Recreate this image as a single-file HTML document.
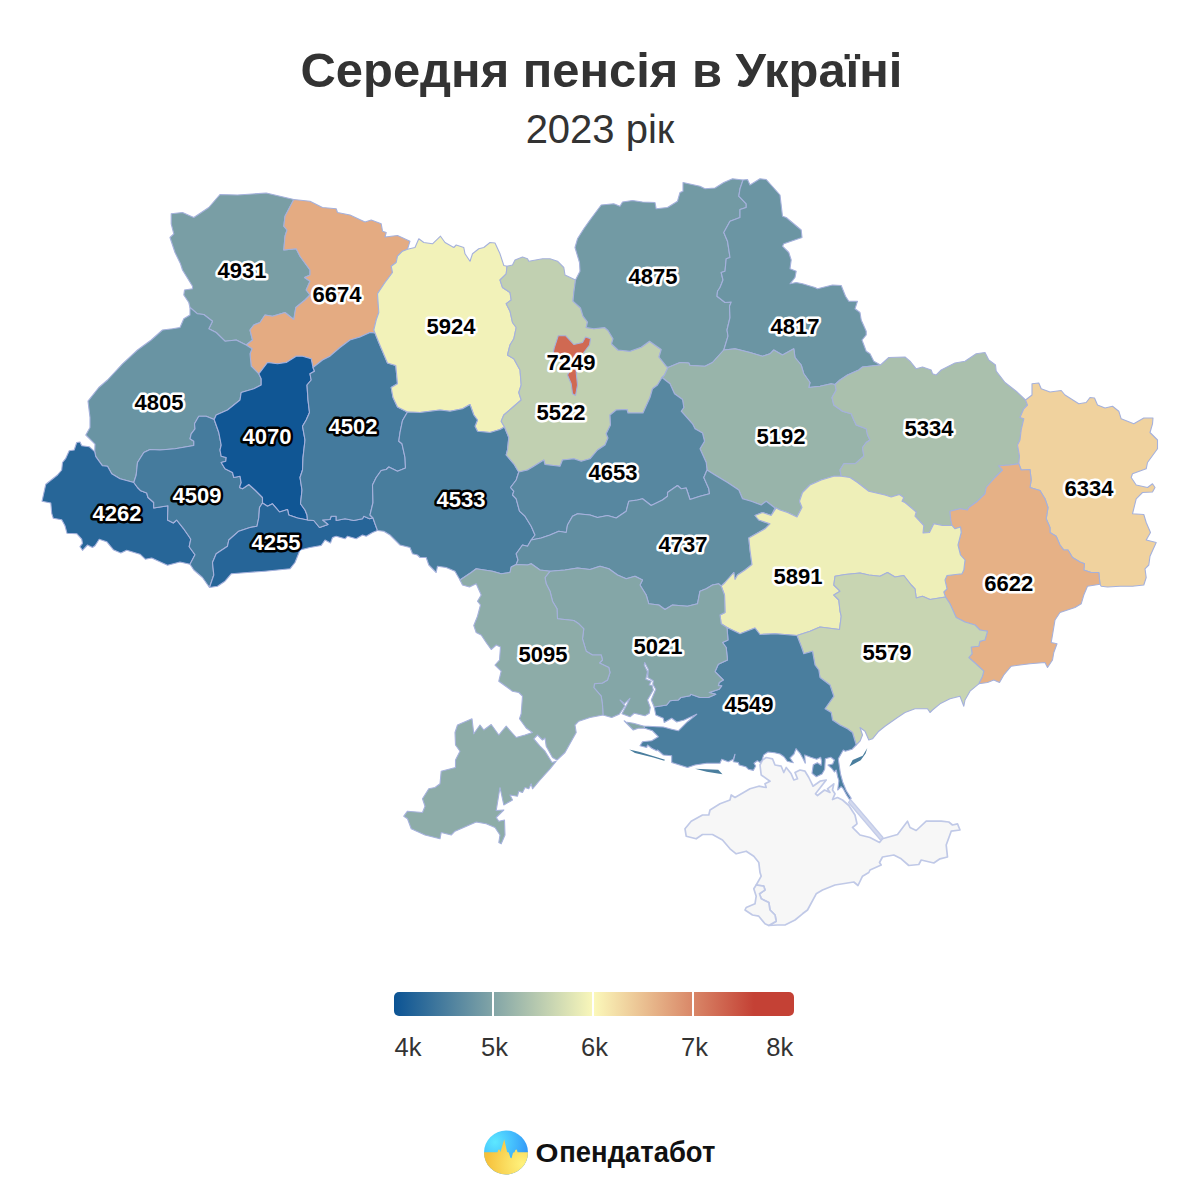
<!DOCTYPE html>
<html><head><meta charset="utf-8"><title>Середня пенсія в Україні</title>
<style>
html,body{margin:0;padding:0;background:#fff;overflow:hidden}
body{width:1200px;height:1200px;position:relative;overflow:hidden;font-family:"Liberation Sans",sans-serif}
.t{position:absolute;left:0;width:1200px;text-align:center;white-space:nowrap}
#title{top:41.5px;padding-left:3px;box-sizing:border-box;font-size:48.9px;font-weight:bold;color:#333;line-height:56px}
#sub{top:107.3px;font-size:40px;color:#333;line-height:44px}
</style></head><body>
<div class="t" id="title">Середня пенсія в Україні</div>
<div class="t" id="sub">2023 рік</div>
<svg width="1200" height="1200" viewBox="0 0 1200 1200" style="position:absolute;left:0;top:0">
<defs><linearGradient id="lg" x1="0" x2="1" y1="0" y2="0"><stop offset="0" stop-color="#0b5394"/><stop offset="0.5" stop-color="#fbf8ba"/><stop offset="0.9" stop-color="#c44135"/><stop offset="1" stop-color="#c44135"/></linearGradient>
<radialGradient id="lb" gradientUnits="userSpaceOnUse" cx="495" cy="1142" r="36"><stop offset="0" stop-color="#5de8ff"/><stop offset="0.5" stop-color="#45bffd"/><stop offset="1" stop-color="#3092f6"/></radialGradient>
<radialGradient id="ly" gradientUnits="userSpaceOnUse" cx="522" cy="1164" r="36"><stop offset="0" stop-color="#fff27c"/><stop offset="0.5" stop-color="#fada5c"/><stop offset="1" stop-color="#f6c03a"/></radialGradient>
<clipPath id="cc"><circle cx="506" cy="1152.5" r="22"/></clipPath></defs>
<g stroke="#a5b1dc" stroke-width="1.1" stroke-linejoin="round">
<path d="M762.5 760L760 765L761.2 775L770 781.2L765 783.8L766.2 787.5L758.8 786.2L750 788.8L735 797.5L731.2 795L730 800L720 803.8L710 810L708.8 815L702.5 815L691.2 821.2L685 828.8L686.2 836.2L696.2 838.8L702.5 834.5L712.5 834.5L722.5 840L730 848.8L736.2 853.8L746.2 851.2L753.8 856.2L758.8 862.5L760 872.5L761.2 876.2L756.2 885L763.8 886.2L765 890L759.5 893.8L761.2 898.8L768.8 902.5L770 910L775 915L776.2 921.2L768.8 925.5L777.5 925L785 925L795 920L802.5 913.8L807.5 910L816.2 893.8L822.5 890L835 885L853.8 882L858 885.5L862.5 876.2L868.8 872.5L870 870L881.2 865L879.5 862.5L882.5 857L893.8 855L901.2 858.8L908.8 865.5L918.8 864.5L921.2 860L933.8 863L940 858.8L947.5 857L946.2 845L951.2 831.2L960 830L957.5 823.8L952.5 825L948.8 822L941.2 821.2L926.2 821.2L916.2 830.5L910 827.5L907.5 821.2L897.5 834.5L882.5 838.8L879.5 842.5L870 837.5L860 835L856.2 831.2L852.5 827.5L857 823.8L855 815L848.8 805.5L842.5 800L837.5 797.5L832.5 799.5L835 793.8L832.5 790L833.8 783.8L827.5 788.8L830 792.5L824.5 790L817.5 795.5L815.5 793.8L826.2 780L820 781.2L813 786.2L808.8 777.5L805 771.2L800 770L795 772.5L797.5 778.8L793.8 780L791.2 773.8L786.2 767.5L783.8 772.5L781.2 766.2L775 765L772.5 758.8L766.2 757.5Z" fill="#f7f7f7" stroke="#c0c9e7" stroke-width="1.7"/>
<path d="M756.2 885L763.8 886.2L765 890L759.5 893.8L761.2 898.8L768.8 902.5L770 910L775 915L776.2 921.2L768.8 925.5L765 923.8L758.8 916.2L752.5 915L745 910L746.2 907.5L755 903.8L756.2 896.2L753.8 888.8Z" fill="#f7f7f7" stroke="#c0c9e7" stroke-width="1.7"/>
<path d="M850.5 799.5L883 837.5L880.5 840L848.5 802.5Z" fill="#d3d9ee" stroke="#c3cce9" stroke-width="1.2"/>
<path d="M190 307.5L188.8 302.5L183.8 295L184.5 290L192.5 288.8L192.5 286.2L182.5 270L180.5 263.8L175 252.5L170 237.5L173.8 233.8L171.2 223.8L171.2 213.8L182.5 212.5L193.8 217.5L208.8 207.5L220 194.5L237.5 195L266.2 193L293.8 199.5L285 216.2L283.8 226.2L287 230L285 236.2L283.8 250L296.2 248.8L300 256.2L310 270L310 275L304.5 277.5L310 281.2L306.2 290L310 295L305 300L295.8 307.5L293.8 319.5L285 312.5L272.5 316.2L265 315L260 322.5L253.8 325L250 330L252.5 340L246.2 345L236.2 340L225 341.2L216.2 332.5L208.8 328.8L212.5 321.2L203.8 314.5L197.5 313.8Z" fill="#799ea5"/>
<path d="M293.8 199.5L310 201.2L322.5 207.5L336.2 208.8L337.5 212.5L350 215L365 222L371.2 220L381.2 223.8L382.5 231.2L386.2 232.5L385 237L397.5 235.5L410 241.2L407.5 249.2L402.5 251.2L397.5 256.2L396.2 262.5L391.2 266.2L392.5 272.5L385 282.5L377.5 293.8L378.8 312.5L376.2 320L373.8 330L375 333L370 332.5L360 337L350 340L340 347.5L330 356.2L322.5 360L313 367.5L311.2 358.8L302.5 356.2L296.2 356.2L286.2 362.5L277.5 363.8L267.5 362.5L258.8 373.8L251.2 366.2L250 353.8L252 348.8L246.2 345L252.5 340L250 330L253.8 325L260 322.5L265 315L272.5 316.2L285 312.5L293.8 319.5L295.8 307.5L305 300L310 295L306.2 290L310 281.2L304.5 277.5L310 275L310 270L300 256.2L296.2 248.8L283.8 250L285 236.2L287 230L283.8 226.2L285 216.2Z" fill="#e4ab82"/>
<path d="M94.7 451.7L95 444.2L85.8 435L90 427.5L90 427.5L90 417.5L88 401.2L98.8 387.5L107.5 380L122.5 363.8L137.5 350L151.2 340L162.5 330L172.5 328.8L180 327.5L183.8 318.8L190 315L190 307.5L197.5 313.8L203.8 314.5L212.5 321.2L208.8 328.8L216.2 332.5L225 341.2L236.2 340L246.2 345L252 348.8L250 353.8L251.2 366.2L258.8 373.8L261.2 378.8L261.2 385L253.8 388.8L241.2 392.5L240 400L227.5 410L216.2 415L214.2 419.5L206.2 416.2L198.8 416.2L194.5 423.8L195 428.8L191.2 433.8L190 438.8L193.8 441.2L193.8 445.5L175 448.8L160 450L150 449.5L143.8 452.5L137.5 462.5L136.2 475L133.8 482.5L120 478.7L111.7 473.7L107.5 466.3L102.5 465.8L95.8 456.7Z" fill="#6994a3"/>
<path d="M190 564.2L180 562L167.5 565.3L151.7 558L145.3 559.2L140 554.2L126.7 550.3L120.8 553L113.3 549.7L106.7 541.7L99.2 539.2L95 545.8L92.5 547.5L87.5 545L82.5 550.3L80 546.7L82.5 543.3L81.7 539.2L76.7 533.7L67 533.3L65 525.8L61.7 519.7L53.3 518.3L51.7 513.3L50.8 503L42 501.3L45.8 484.2L57.5 475L61.7 470L62.5 462.5L65.8 458.3L69.2 450.8L74.2 450L76.7 442.5L80 442L81.7 445.8L89.2 446.7L94.7 451.7L95.8 456.7L102.5 465.8L107.5 466.3L111.7 473.7L120 478.7L133.8 482.5L137.5 487.5L140.8 490.8L146.7 493L148 497.5L153.7 502.5L153.7 508L168 505.8L167.5 520L173.3 523L176.7 520L183.3 528.3L189.2 536.7L190.8 539.2L189.2 546.7L195 554.7Z" fill="#276698"/>
<path d="M133.8 482.5L136.2 475L137.5 462.5L143.8 452.5L150 449.5L160 450L175 448.8L193.8 445.5L193.8 441.2L190 438.8L191.2 433.8L195 428.8L194.5 423.8L198.8 416.2L206.2 416.2L214.2 419.5L218.8 432.5L221.2 445L220 450L221.2 456.2L226.2 457.5L225.8 461.2L221.2 462.5L225 468.8L232.5 472.5L233.8 477.5L240 476.2L241.2 482.5L239.5 487.5L242.5 488.8L248.8 484.5L255 490L262.5 497.5L262.5 503L259.5 507.5L258.8 517.5L257 526.2L250 527.5L238.8 531.2L228.8 540L227.5 546.2L216.2 553.8L212.5 562.5L213.8 575L209.5 587.5L202.5 577.5L193.8 570L190 564.2L195 554.7L189.2 546.7L190.8 539.2L189.2 536.7L183.3 528.3L176.7 520L173.3 523L167.5 520L168 505.8L153.7 508L153.7 502.5L148 497.5L146.7 493L140.8 490.8L137.5 487.5Z" fill="#457b9d"/>
<path d="M258.8 373.8L267.5 362.5L277.5 363.8L286.2 362.5L296.2 356.2L302.5 356.2L311.2 358.8L313 367.5L314.5 371.2L310 373.8L311.2 380L307 385L308 400L309.5 412.5L306.2 420L302.5 426.2L305 440L303 457.5L302.5 470L300 477.5L302 490L300.5 503.8L305 510L307 515L307.5 520L297.5 518L288.8 515L287.5 509.5L279.5 512L272.5 503.8L267.5 506.2L262.5 503L262.5 497.5L255 490L248.8 484.5L242.5 488.8L239.5 487.5L241.2 482.5L240 476.2L233.8 477.5L232.5 472.5L225 468.8L221.2 462.5L225.8 461.2L226.2 457.5L221.2 456.2L220 450L221.2 445L218.8 432.5L214.2 419.5L216.2 415L227.5 410L240 400L241.2 392.5L253.8 388.8L261.2 385L261.2 378.8Z" fill="#105694"/>
<path d="M262.5 503L267.5 506.2L272.5 503.8L279.5 512L287.5 509.5L288.8 515L297.5 518L307.5 520L313.8 520.5L319.5 527.5L328 524.5L322.5 520L330 519.5L331.2 516.2L336.2 516.2L336.2 520.5L345 518.8L353.8 520.5L362.5 518.8L363.8 516.2L369.5 518.8L373 518L375 523.8L377.5 530.5L372.5 532.5L366.2 536.2L362.5 535L356.2 538.8L347.5 536.2L345 538.8L336.2 536.2L332.5 537.5L330.5 543L325 540L321.2 545.5L310 547.5L300 550L295 562.5L290 568.8L265 571.2L247.5 572.5L231.2 573.8L225 581.2L217.5 586.2L209.5 587.5L213.8 575L212.5 562.5L216.2 553.8L227.5 546.2L228.8 540L238.8 531.2L250 527.5L257 526.2L258.8 517.5L259.5 507.5Z" fill="#266598"/>
<path d="M313 367.5L322.5 360L330 356.2L340 347.5L350 340L360 337L370 332.5L375 333L378.8 342.5L387.5 363L395.8 365.5L397.5 383.8L391.2 387.5L393 397.5L397.5 407L407.5 412L402.5 420.5L400 432.5L398.8 441.2L402 443.8L405 457.5L405.5 468L397.5 471.2L388.8 467L386.2 469.5L381.2 470.5L376.2 477.5L372.5 485L373 502.5L370 515L373 518L369.5 518.8L363.8 516.2L362.5 518.8L353.8 520.5L345 518.8L336.2 520.5L336.2 516.2L331.2 516.2L330 519.5L322.5 520L328 524.5L319.5 527.5L313.8 520.5L307.5 520L307 515L305 510L300.5 503.8L302 490L300 477.5L302.5 470L303 457.5L305 440L302.5 426.2L306.2 420L309.5 412.5L308 400L307 385L311.2 380L310 373.8L314.5 371.2Z" fill="#447a9d"/>
<path d="M407.5 249.2L415 247.5L418.8 238.8L423.8 242.5L432.5 243.8L440.5 236.2L445 242.5L453.8 247.5L456.2 245L463.8 247.5L465 253.8L470 261.2L472.5 253.8L478.8 248.8L483.8 247.5L490 242.5L495 243L500 253.8L503.8 265.5L507 266.2L506.2 273.8L500 280L502.5 287.5L510 292.5L511.2 300L506.2 303.8L510 311.2L512.5 322.5L516.2 327.5L513.8 338.8L510 345L507.5 355L513.8 358.8L520 370L521.2 385L518.8 392.5L521.2 400L512.5 407.5L503.8 415L501.2 421.2L504.5 427L500 429.5L490 432.5L477.5 431.2L475 426.2L477.5 420L473.8 415L470 404.5L462.5 408.8L450 411.2L440 410L420 412.5L407.5 412L397.5 407L393 397.5L391.2 387.5L397.5 383.8L395.8 365.5L387.5 363L378.8 342.5L375 333L373.8 330L376.2 320L378.8 312.5L377.5 293.8L385 282.5L392.5 272.5L391.2 266.2L396.2 262.5L397.5 256.2L402.5 251.2Z" fill="#f2f2b9"/>
<path d="M407.5 412L420 412.5L440 410L450 411.2L462.5 408.8L470 404.5L473.8 415L477.5 420L475 426.2L477.5 431.2L490 432.5L500 429.5L504.5 427L508.8 437.5L507.5 450L506.2 455L513.8 463.8L517.5 470L518.8 472L516.2 480L510.5 487.5L513.8 491.2L512.5 495L516.2 498.8L519.5 511.2L525 516.2L531.2 526.2L535 535L531.2 540L527.5 546.2L522.5 545L516.2 553.8L518 560L516.2 564.5L511.2 567L510 572.5L501.2 573.8L492.5 571.2L476.2 568.8L471.2 572.5L460 580L455 571.2L446.2 567.5L437.5 566.2L436.2 572.5L428.8 565L426.2 557.5L420 557.5L417.5 555L412.5 553.8L410 547.5L400 545L390 535L383.8 531.2L377.5 530.5L375 523.8L373 518L370 515L373 502.5L372.5 485L376.2 477.5L381.2 470.5L386.2 469.5L388.8 467L397.5 471.2L405.5 468L405 457.5L402 443.8L398.8 441.2L400 432.5L402.5 420.5Z" fill="#487d9d"/>
<path d="M507 266.2L512.5 265L515 260L522.5 257L527.5 258.8L528.8 261.2L542.5 258.8L550 258.8L557.5 261.2L563.8 267.5L565 275L575.5 280L573.8 292.5L573 301.2L580.5 308L583 316.2L587.5 322L586.2 327.5L593.8 328.8L604.5 327.5L608 330.5L613 338.8L611.5 343.8L618 350L630 351.2L641.2 347.2L649.5 341.2L661.2 349.5L659 357L666.2 366.2L668 367.5L664.5 375L662 377.5L657.5 385L652.5 388.8L650 397.5L643 413L628 413L627 409.5L616.2 410L610 415L610.5 425L606.2 433.8L608 438L605 445L597.5 450L590 458.8L581.2 461.2L573.8 458.8L562.5 460L560 466.2L545 464.5L543.8 460L533.8 466.2L527.5 470L518.8 472L517.5 470L513.8 463.8L506.2 455L507.5 450L508.8 437.5L504.5 427L501.2 421.2L503.8 415L512.5 407.5L521.2 400L518.8 392.5L521.2 385L520 370L513.8 358.8L507.5 355L510 345L513.8 338.8L516.2 327.5L512.5 322.5L510 311.2L506.2 303.8L511.2 300L510 292.5L502.5 287.5L500 280L506.2 273.8Z" fill="#c1d0b1"/>
<path d="M575.5 280L580 271.2L579.5 262.5L575 247.5L577.5 238.8L583.8 228.8L590 220L601.2 205L613.8 203.8L620 206.2L622.5 202L632.5 200.5L642.5 202L655 202.5L656.2 208.8L667.5 207.5L677.5 201.2L680 192.5L683 191.2L683 182.5L700 186.2L705 188.8L715 188L723.8 182.5L732.5 178.8L743 180L740 188.8L738.8 196.2L746.2 203.8L746.2 207.5L740 209.5L740 217.5L730 221.2L723.8 232.5L727.5 241.2L730 257.5L726.2 258.8L725 271.2L721.2 272.5L723 280L720 287.5L717.5 291.2L717 296.2L725 302.5L731.2 302L729.5 306.2L730 317.5L727 330L728 336.2L723.8 350L712.5 362.5L705 366.2L690 365.5L688.8 363L680 362.5L668 367.5L666.2 366.2L659 357L661.2 349.5L649.5 341.2L641.2 347.2L630 351.2L618 350L611.5 343.8L613 338.8L608 330.5L604.5 327.5L593.8 328.8L586.2 327.5L587.5 322L583 316.2L580.5 308L573 301.2L573.8 292.5Z" fill="#729aa4"/>
<path d="M743 180L747.5 179.5L750 185L760 178.8L766.2 179.5L780 195L782.5 216.2L786.2 217.5L801.2 230L802 237.5L783.8 243.8L782.5 246.2L788.8 252.5L791.2 260L790 268.8L796.2 271.2L795 277.5L790 283.8L796.2 282.5L802.5 283.8L815 287.5L817.5 288.8L832.5 285L841.2 285.5L845.5 296.2L848.8 301.2L857.5 301.2L855 308.8L860 312.5L861.2 320L866.2 331.2L866.2 335L862 340L866.2 351.2L870 353.8L873.8 361.2L880.5 365L862.5 367L858.8 370L847.5 375L840 380L835 384.5L831.2 383.8L820 386.2L808.8 387.5L810 382.5L803.8 373.8L801.2 365L795 357.5L793.8 348.8L782.5 355L773.8 350L770 353.8L762.5 356.2L750 352.5L735 348.8L723.8 350L728 336.2L727 330L730 317.5L729.5 306.2L731.2 302L725 302.5L717 296.2L717.5 291.2L720 287.5L723 280L721.2 272.5L725 271.2L726.2 258.8L730 257.5L727.5 241.2L723.8 232.5L730 221.2L740 217.5L740 209.5L746.2 207.5L746.2 203.8L738.8 196.2L740 188.8Z" fill="#6b95a3"/>
<path d="M668 367.5L680 362.5L688.8 363L690 365.5L705 366.2L712.5 362.5L723.8 350L735 348.8L750 352.5L762.5 356.2L770 353.8L773.8 350L782.5 355L793.8 348.8L795 357.5L801.2 365L803.8 373.8L810 382.5L808.8 387.5L820 386.2L831.2 383.8L835 384.5L836.2 390L832 397.5L833.8 405L842.5 411.2L851.2 413.8L853.8 420L856.2 425L866.2 428.8L867.5 435L870 440L866.2 442.5L862.5 447.5L863.8 456.2L855 463.8L843.8 463.8L840 470L841.2 476.2L833.8 476.2L821.2 480L810 485L802.5 492.5L799.5 501.2L802 507.5L797 517L787.5 512.5L780 510L776.2 508L771.2 515.5L775 508L766.2 501.2L761.2 505L751.2 501.2L742.5 498.8L738.8 490L727.5 482.5L715 475L707 470L706.2 462.5L700 448.8L704.5 441.2L702.5 433L695 428.8L692.5 423.8L681.2 411.2L683.8 407.5L682.5 399.5L674.5 393.8L670 383.8L662 377.5L664.5 375Z" fill="#98b4aa"/>
<path d="M518.8 472L527.5 470L533.8 466.2L543.8 460L545 464.5L560 466.2L562.5 460L573.8 458.8L581.2 461.2L590 458.8L597.5 450L605 445L608 438L606.2 433.8L610.5 425L610 415L616.2 410L627 409.5L628 413L643 413L650 397.5L652.5 388.8L657.5 385L662 377.5L670 383.8L674.5 393.8L682.5 399.5L683.8 407.5L681.2 411.2L692.5 423.8L695 428.8L702.5 433L704.5 441.2L700 448.8L706.2 462.5L707 470L703.8 477.5L708.8 488.8L709.5 493.8L700 496.2L690 499.5L686.2 488L681.2 488.8L677.5 485.5L667.5 492.5L667.5 496.2L662.5 500L651.2 505.5L642.5 498.8L637.5 500L628.8 501.2L626.2 511.2L616.2 518L607.5 515.5L597.5 517.5L590 515L577.5 513.8L572.5 516.2L567.5 525L566.2 532.5L558.8 531.2L550 535L541.2 538L531.2 540L535 535L531.2 526.2L525 516.2L519.5 511.2L516.2 498.8L512.5 495L513.8 491.2L510.5 487.5L516.2 480Z" fill="#5787a0"/>
<path d="M531.2 540L541.2 538L550 535L558.8 531.2L566.2 532.5L567.5 525L572.5 516.2L577.5 513.8L590 515L597.5 517.5L607.5 515.5L616.2 518L626.2 511.2L628.8 501.2L637.5 500L642.5 498.8L651.2 505.5L662.5 500L667.5 496.2L667.5 492.5L677.5 485.5L681.2 488.8L686.2 488L690 499.5L700 496.2L709.5 493.8L708.8 488.8L703.8 477.5L707 470L715 475L727.5 482.5L738.8 490L742.5 498.8L751.2 501.2L761.2 505L766.2 501.2L775 508L771.2 515.5L762.5 512.5L755 515.5L758.8 520L770 523.8L765 528.8L748.8 538L750 550L752 564.5L745 570L737.5 575L735 579.5L733.8 572.5L725 582.5L721.2 586.2L718.8 583.8L712.5 585L706.2 588.8L700 591.2L697.5 603.8L687.5 606.2L672.5 605L665 609.5L658.8 605L648.8 603.8L646.2 595L640 585L642.5 580L635 576.2L626.2 578.8L617.5 575L608.8 568.8L600 566.2L590 569.5L577.5 568L565 570L550 571.2L540 570L531.2 563.8L527.5 565L516.2 564.5L518 560L516.2 553.8L522.5 545L527.5 546.2Z" fill="#618ea1"/>
<path d="M880.5 365L888.8 357.5L905 357L910 361.2L916.2 368.8L922.5 367L931.2 370L932.5 373.8L936.2 375L941.2 370L955 363L965 361.2L976.2 353.8L985 352.5L988.8 360L995.5 365L996.2 371.2L1005 382.5L1016.2 391.2L1025.5 400L1027.5 405L1023.8 408.8L1020 417.5L1023.8 418.8L1021.2 430L1020 440L1017.5 445L1019.5 456.2L1018.8 463.8L1010 465L998.8 465.8L1002.5 470L995 477.5L986.2 487.5L985 493.8L977.5 501.2L968.8 507.5L967.5 510L960 508.8L950 511.2L950.8 520L952 525.5L942.5 525.5L933.8 523.8L929.5 532.5L923 533L923.8 525.5L915 516.2L916.2 512L905 502.5L902 501.2L903.8 497.5L899.5 494.5L891.2 497L885 495L868.8 491.2L857.5 482.5L850 477.5L841.2 476.2L840 470L843.8 463.8L855 463.8L863.8 456.2L862.5 447.5L866.2 442.5L870 440L867.5 435L866.2 428.8L856.2 425L853.8 420L851.2 413.8L842.5 411.2L833.8 405L832 397.5L836.2 390L835 384.5L840 380L847.5 375L858.8 370L862.5 367Z" fill="#aac0ad"/>
<path d="M1025.5 400L1032 395L1032 383.8L1038.8 383L1041.2 388.8L1050 392L1061.2 390.5L1065 395L1078.8 403.8L1086.2 402.5L1090 397.5L1094.5 398L1097.5 405L1105 408L1112.5 406.2L1118.8 411.2L1121.2 418.8L1133.8 423.8L1143.8 418L1153 418L1152.5 423.8L1150 432.5L1157.5 440L1157.5 448.8L1147.5 462.5L1146.2 468.8L1132.5 473.8L1131.2 477.5L1136.2 485L1147.5 487.5L1152.5 483.8L1155 487.5L1152.5 492L1142.5 492.5L1136.2 498.8L1132.5 513.8L1143.8 514.5L1146.2 522.5L1150.5 532.5L1146.2 540L1156.2 542.5L1150 556.2L1148.8 565L1145 568.8L1146.2 577.5L1143.8 585L1132.5 586.2L1120 586.2L1107.5 587L1101.2 586.2L1100 584.2L1098.8 572.5L1091.2 572.5L1083.8 570L1084.5 563.8L1080 562L1072.5 557.5L1068 550L1063.8 550L1060 545L1056.2 536.2L1050 532.5L1050 527.5L1046.2 518.8L1048 507.5L1045 498.8L1040 490.5L1030 487.5L1031.2 480L1030 469.5L1021.2 470L1018.8 463.8L1019.5 456.2L1017.5 445L1020 440L1021.2 430L1023.8 418.8L1020 417.5L1023.8 408.8L1027.5 405Z" fill="#f0d29e"/>
<path d="M1018.8 463.8L1021.2 470L1030 469.5L1031.2 480L1030 487.5L1040 490.5L1045 498.8L1048 507.5L1046.2 518.8L1050 527.5L1050 532.5L1056.2 536.2L1060 545L1063.8 550L1068 550L1072.5 557.5L1080 562L1084.5 563.8L1083.8 570L1091.2 572.5L1098.8 572.5L1100 584.2L1087.5 586.2L1083.8 595L1081.2 603.8L1075 607.5L1060 612.5L1055 620L1052.5 635L1051.2 642.5L1057 643.8L1053.8 652.5L1052.5 660L1047.5 667.5L1045 662.5L1030 663.8L1020 665L1011.2 666.2L1003.8 675L999.5 682.5L993.8 680L987.5 682.5L978.8 683.8L982.5 676.2L983.8 671.2L975 663L968.8 657.5L972 653.8L971.2 647L978.8 646.2L980 641.2L985 640L987.5 631.2L980 630L975 625L965 622L956.2 617.5L950 603.8L945.5 597L943.8 592L947 588.8L945 580L947 575.5L962 573.8L963.8 570L965 560L960.5 555L958 545L961.2 532.5L960.5 527L955 528.8L952 525.5L950.8 520L950 511.2L960 508.8L967.5 510L968.8 507.5L977.5 501.2L985 493.8L986.2 487.5L995 477.5L1002.5 470L998.8 465.8L1010 465Z" fill="#e6b186"/>
<path d="M841.2 476.2L850 477.5L857.5 482.5L868.8 491.2L885 495L891.2 497L899.5 494.5L903.8 497.5L902 501.2L905 502.5L916.2 512L915 516.2L923.8 525.5L923 533L929.5 532.5L933.8 523.8L942.5 525.5L952 525.5L955 528.8L960.5 527L961.2 532.5L958 545L960.5 555L965 560L963.8 570L962 573.8L947 575.5L945 580L947 588.8L943.8 592L945.5 597L930 599.5L922.5 596.2L916.2 598L915 588.8L911.2 585L903.8 575.5L895 577L887.5 572.5L880 576.2L868.8 575L860 573L845 574.5L835 576.2L833.8 585L840 591.2L833.8 595L838.8 600L840 611.2L841.2 616.2L839.5 629.5L820 627L810 631.2L797 635.5L775 633.8L760 634.5L755 628L740 633.8L727 627.5L721.2 623.8L720 615L725 612.5L724.5 595L721.2 586.2L725 582.5L733.8 572.5L735 579.5L737.5 575L745 570L752 564.5L750 550L748.8 538L765 528.8L770 523.8L758.8 520L755 515.5L762.5 512.5L771.2 515.5L776.2 508L780 510L787.5 512.5L797 517L802 507.5L799.5 501.2L802.5 492.5L810 485L821.2 480L833.8 476.2Z" fill="#eeefb8"/>
<path d="M797 635.5L810 631.2L820 627L839.5 629.5L841.2 616.2L840 611.2L838.8 600L833.8 595L840 591.2L833.8 585L835 576.2L845 574.5L860 573L868.8 575L880 576.2L887.5 572.5L895 577L903.8 575.5L911.2 585L915 588.8L916.2 598L922.5 596.2L930 599.5L945.5 597L950 603.8L956.2 617.5L965 622L975 625L980 630L987.5 631.2L985 640L980 641.2L978.8 646.2L971.2 647L972 653.8L968.8 657.5L975 663L983.8 671.2L982.5 676.2L978.8 683.8L970 691.2L965 700L963.8 706.2L960 696.2L950 698.8L940 703.8L932.5 710L930 712.5L927.5 708.8L915 708.8L905 712.5L897.5 717.5L885 726.2L878.8 731.2L872.5 738.8L868.8 740L865 731.2L860 727.5L862.5 735L860 741.2L856.2 745L852.5 732.5L847.5 728.8L840 725L832.5 720L831.2 712.5L825 708.8L833.8 696.2L830 685L820 677.5L818.8 670L815 665L812.5 651.2L803.8 653.8L801.2 646.2Z" fill="#c8d5b2"/>
<path d="M727 627.5L740 633.8L755 628L760 634.5L775 633.8L797 635.5L801.2 646.2L803.8 653.8L812.5 651.2L815 665L818.8 670L820 677.5L830 685L833.8 696.2L825 708.8L831.2 712.5L832.5 720L840 725L847.5 728.8L852.5 732.5L856.2 745L852 749.3L845.3 751.3L843.3 750L838.3 758.7L839.2 765.3L840.5 774L842.7 782L846.3 790.7L851.2 798.4L849.3 799.2L846.7 795.3L842.9 788.3L841.1 786.7L837.7 790L838.9 780.7L837.6 776.7L836.3 770L834.4 772L832 768.7L828 765.1L832.7 764L834.4 760L830.7 757.3L825.3 758.7L824.7 769.3L822 774L816.3 776.7L812 773.3L813.3 764.7L817.3 762.7L821.1 765.3L821.6 761.3L820.7 757.3L816.7 759.3L810.7 757.3L804.7 754.9L805.3 763.3L802.7 758L800 753.3L796 748.7L794 754L790 758L793.3 762.7L787.3 761.3L784 756.7L780 754L774.7 752.7L768 752L763.7 754.9L762 760L760 762.4L757.3 760.7L754 763.3L755.7 766L753.3 770.4L748.3 769.2L745.8 766.7L739.2 765L738.3 762.5L733.3 761.7L735 754.2L733.3 759.2L728.3 761.7L721.7 759.2L720 763.3L706.7 763.3L695 765L687.5 767.5L671.7 762.5L671.7 755.8L663.3 755L657.5 750L656.7 750.8L651.7 748.3L647.5 745L646.7 747.5L640 745.8L642.5 741.7L651.7 740.8L658.3 736.7L652.5 730.8L644.7 728.3L644.2 726.3L648.3 726.3L656.7 726.7L663.3 727L671.7 729.2L678.3 730.8L683.3 725.8L687.5 721.7L696.7 714.2L684.2 720L676.7 722L671.7 718.3L664.2 722.5L663.3 718.3L655.8 715L654.2 707L666.7 705L670 700.8L678.3 700L680.8 697.5L690 695.8L690.8 694.2L700 697.5L708.3 697.5L715.8 694.2L709.2 692.5L719.2 689.2L721.7 685.8L718.3 685.8L719.2 682.5L723.3 680L718.3 675L715 671.7L718.3 664.2L727.5 660L727.5 660L726.2 647.5L722.5 642.5L728 640Z" fill="#4a7e9e"/>
<path d="M550 571.2L565 570L577.5 568L590 569.5L600 566.2L608.8 568.8L617.5 575L626.2 578.8L635 576.2L642.5 580L640 585L646.2 595L648.8 603.8L658.8 605L665 609.5L672.5 605L687.5 606.2L697.5 603.8L700 591.2L706.2 588.8L712.5 585L718.8 583.8L721.2 586.2L724.5 595L725 612.5L720 615L721.2 623.8L727 627.5L728 640L722.5 642.5L726.2 647.5L727.5 660L727.5 660L718.3 664.2L715 671.7L718.3 675L723.3 680L719.2 682.5L718.3 685.8L721.7 685.8L719.2 689.2L709.2 692.5L715.8 694.2L708.3 697.5L700 697.5L690.8 694.2L690 695.8L680.8 697.5L678.3 700L670 700.8L666.7 705L654.2 707L653.7 705.8L651.3 700L653 695.8L655.8 689.2L652.8 684.2L653.3 680.8L647.8 677.5L648.3 669.2L644.7 662.5L644.2 665L647.5 671.7L645.8 679.2L651.3 681.3L649.2 685L652 685.3L653.3 690L647.5 700L650.3 707.5L649.2 713.3L645 715.8L634.2 713.3L630 716.7L622 713.8L626.3 705.8L630 698.3L624.5 703.7L620 700L625 705.8L619.2 714.2L611.7 717.5L603 715L602.5 705L601.2 696.2L593.8 687.5L594.5 683.8L602.5 683L607.5 680L610 672.5L608.8 667.5L599.5 663L602.5 660L601.2 655L592.5 655L586.2 651.2L582.5 638.8L583.8 628.8L578.8 623.8L573.8 620.5L557.5 618.8L557 608.8L552.5 601.2L550 591.2L546.2 583.8L545 577.5Z" fill="#84a6a7"/>
<path d="M516.2 564.5L511.2 567L510 572.5L501.2 573.8L492.5 571.2L476.2 568.8L471.2 572.5L460 580L462.5 585L469.5 587L476.2 583.8L481.2 595L477.5 601.2L480.5 605L477.5 616.2L473.8 625.5L476.2 632.5L481.2 635L486.2 642.5L491.2 649.5L496.2 645L500.5 647L499.5 660L495 665L501.2 671.2L498.8 681.2L507.5 687.5L512.5 691.2L518.8 692.5L522.5 696.2L521.2 713.8L519.5 718.8L526.2 728L532.5 732.5L525 735L516.2 737.5L506.2 726.2L498.8 735L491.2 724.5L483.8 730L480 725L473.8 733.8L472 718.8L457.5 725L455 732.5L455.5 745L460 751.2L455.5 760L455.5 767.5L441.2 771.2L440 783.8L435 787.5L428.8 788.8L422.5 798.8L425 806.2L422.5 812.5L407.5 811.2L403.8 816.2L407.5 818.8L411.2 828.8L425 835L440 838.8L441.2 832.5L451.2 835L455 831.2L476.2 822L486.2 823.8L495 827.5L500 835L498.8 842.5L501.2 843.8L505 835L504.5 820L498.8 821.2L496.2 817.5L503.8 810L496.2 810.5L500 787.5L503.8 805L512.5 800L510 795L517.5 796.2L518.8 791.2L522.5 792.5L525 787.5L528.8 788.8L531.2 783.8L532.5 788.8L540 780L550 768.8L556.2 761.2L552 762.5L545 751.2L540 746.2L533.8 738.8L537.5 735L542.5 740L545 738L546.2 746.2L552.5 757.5L557 760L565 752.5L576.2 732.5L575 725L578.8 721.2L590 717.5L603 715L602.5 705L601.2 696.2L593.8 687.5L594.5 683.8L602.5 683L607.5 680L610 672.5L608.8 667.5L599.5 663L602.5 660L601.2 655L592.5 655L586.2 651.2L582.5 638.8L583.8 628.8L578.8 623.8L573.8 620.5L557.5 618.8L557 608.8L552.5 601.2L550 591.2L546.2 583.8L545 577.5L550 571.2L540 570L531.2 563.8L527.5 565Z" fill="#8daca8"/>
<path d="M554.2 348.2L558.2 335.8L565.8 335.8L573.8 344.5L582.5 342.5L585.5 337L590.5 338.8L589.5 345L583.8 352.5L580 360L576.2 372.5L577.5 385L575.5 395.5L572.5 393.8L571.2 383.8L567.5 375L568.8 372.5L563.8 366.2L562.5 360L553.2 353.2Z" fill="#d06952"/>
<path d="M644.2 726.3L633.3 723.3L625.8 722L624.2 720.8L628.3 725L633.3 730L638.3 728.3L644.7 728.3Z" fill="#84a6a7"/>
</g>
<path d="M629.2 749.5L640 752L665 759.7L664.2 760.7L653.3 757.5L635 753Z" fill="#4a7e9e"/>
<path d="M695 768.7L718.3 769.7L722.5 774.2L706.7 771.7Z" fill="#4a7e9e"/>
<path d="M849.3 766.4L852.7 760L862.7 755.7L867.3 748L865.6 753.6L860.7 760.3Z" fill="#4a7e9e"/>
<g font-family="Liberation Sans, sans-serif" font-weight="bold" font-size="22" text-anchor="middle" stroke-linejoin="round" paint-order="stroke" stroke-width="5">
<text x="242" y="277.6" fill="#000" stroke="#fff">4931</text>
<text x="337" y="301.6" fill="#000" stroke="#fff">6674</text>
<text x="451" y="333.6" fill="#000" stroke="#fff">5924</text>
<text x="571" y="369.6" fill="#000" stroke="#fff">7249</text>
<text x="561" y="419.6" fill="#000" stroke="#fff">5522</text>
<text x="653" y="283.6" fill="#000" stroke="#fff">4875</text>
<text x="795" y="333.6" fill="#000" stroke="#fff">4817</text>
<text x="159" y="409.6" fill="#000" stroke="#fff">4805</text>
<text x="267" y="443.6" fill="#fff" stroke="#000">4070</text>
<text x="353" y="433.6" fill="#fff" stroke="#000">4502</text>
<text x="461" y="506.6" fill="#fff" stroke="#000">4533</text>
<text x="613" y="479.6" fill="#000" stroke="#fff">4653</text>
<text x="781" y="443.6" fill="#000" stroke="#fff">5192</text>
<text x="929" y="435.6" fill="#000" stroke="#fff">5334</text>
<text x="1089" y="495.6" fill="#000" stroke="#fff">6334</text>
<text x="1008.8" y="591.4" fill="#000" stroke="#fff">6622</text>
<text x="798" y="583.6" fill="#000" stroke="#fff">5891</text>
<text x="887" y="659.6" fill="#000" stroke="#fff">5579</text>
<text x="749" y="711.6" fill="#000" stroke="#fff">4549</text>
<text x="658" y="653.6" fill="#000" stroke="#fff">5021</text>
<text x="543" y="661.6" fill="#000" stroke="#fff">5095</text>
<text x="683" y="551.6" fill="#000" stroke="#fff">4737</text>
<text x="117" y="521" fill="#fff" stroke="#000">4262</text>
<text x="197" y="502.6" fill="#fff" stroke="#000">4509</text>
<text x="276" y="549.6" fill="#fff" stroke="#000">4255</text>
</g>
<rect x="394" y="992" width="400" height="24" rx="5" fill="url(#lg)"/>
<rect x="492" y="991" width="2" height="26" fill="#fff"/>
<rect x="592" y="991" width="2" height="26" fill="#fff"/>
<rect x="692" y="991" width="2" height="26" fill="#fff"/>
<g font-family="Liberation Sans, sans-serif" font-size="25.5" fill="#333">
<text x="394.5" y="1056">4k</text><text x="494.5" y="1056" text-anchor="middle">5k</text><text x="594.5" y="1056" text-anchor="middle">6k</text><text x="694.5" y="1056" text-anchor="middle">7k</text><text x="793.2" y="1056" text-anchor="end">8k</text></g>
<g clip-path="url(#cc)"><rect x="483" y="1129" width="46" height="47" fill="url(#lb)"/>
<path d="M483 1152.25 L497.5 1152.25 L498.2 1149.9 Q498.9 1149.3 499.6 1149.7 L500.4 1152 L504.25 1139.2 L507.1 1152 L508.75 1152.5 L510.4 1157.8 Q511 1158.6 511.6 1158 L513 1152.7 L514.5 1152.25 L515.4 1149.9 Q516.1 1149.3 516.8 1149.7 L517.6 1152.25 L529 1152.25 L529 1176 L483 1176Z" fill="url(#ly)"/></g>
<text x="535.5" y="1162" font-family="Liberation Sans, sans-serif" font-weight="bold" font-size="26.5" fill="#111" textLength="23" lengthAdjust="spacingAndGlyphs">О</text>
<text x="559.3" y="1162" font-family="Liberation Sans, sans-serif" font-weight="bold" font-size="29.5" fill="#111" textLength="156" lengthAdjust="spacingAndGlyphs">пендатабот</text>
</svg>
</body></html>
